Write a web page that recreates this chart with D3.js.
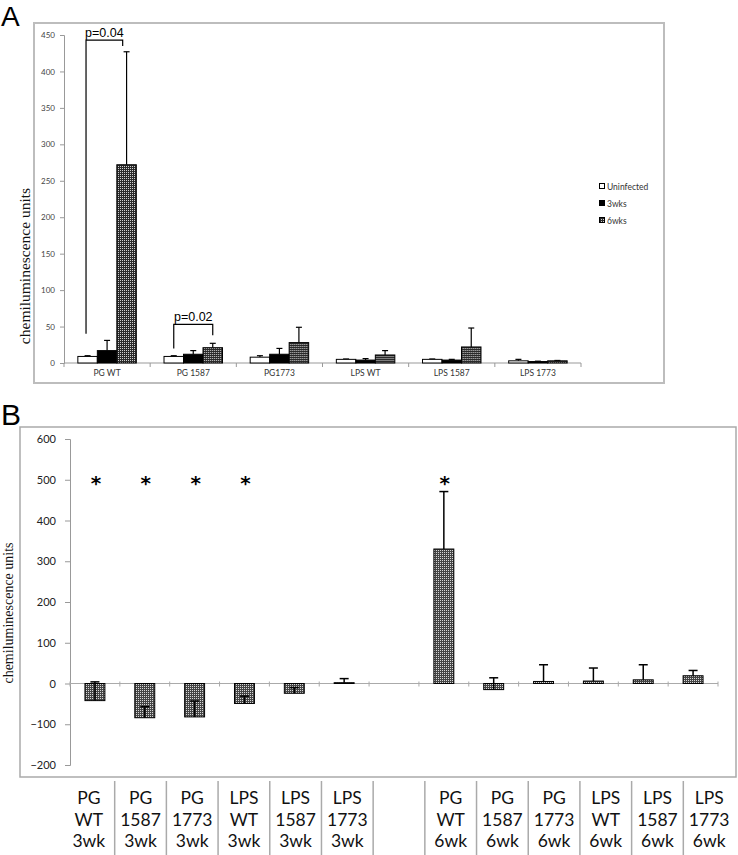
<!DOCTYPE html>
<html><head><meta charset="utf-8">
<script src="https://cdn.jsdelivr.net/npm/d3@7/dist/d3.min.js"></script>
<style>body{margin:0;background:#fff}svg{display:block}</style>
</head><body>
<svg id="chart" width="738" height="855"></svg>
<script>
// ---------- Panel A data ----------
const categoriesA = ["PG WT","PG 1587","PG1773","LPS WT","LPS 1587","LPS 1773"];
const seriesA = ["Uninfected","3wks","6wks"];
const uninfected    = [9, 9, 8, 5, 5, 3];
const uninfectedErr = [1, 1, 2, 0.5, 0.5, 2];
const wks3          = [17, 12, 12, 4, 4, 2];
const wks3Err       = [14, 5, 8, 2, 1, 0.5];
const wks6          = [272, 21, 28, 11, 22, 3];
const wks6Err       = [155, 6, 21, 6, 26, 0.5];
const ticksA = [0,50,100,150,200,250,300,350,400,450];

// ---------- Panel B data ----------
const categoriesB = ["PG WT 3wk","PG 1587 3wk","PG 1773 3wk","LPS WT 3wk","LPS 1587 3wk","LPS 1773 3wk","",
                     "PG WT 6wk","PG 1587 6wk","PG 1773 6wk","LPS WT 6wk","LPS 1587 6wk","LPS 1773 6wk"];
const valuesB = [-42, -84, -82, -49, -24, 2, null, 330, -15, 5, 6, 9, 19];
const errorsB = [46, 27, 39, 18, 14, 10, null, 141, 29, 41, 32, 37, 13];
const starsB  = ["PG WT 3wk","PG 1587 3wk","PG 1773 3wk","LPS WT 3wk","PG WT 6wk"];
const starValue = 500;
const ticksB = [-200,-100,0,100,200,300,400,500,600];

const svg = d3.select("#chart");
const defs = svg.append("defs");
function pat(id, bg, dot){
  const p = defs.append("pattern").attr("id", id).attr("width", 2).attr("height", 2)
    .attr("patternUnits", "userSpaceOnUse");
  p.append("rect").attr("width", 2).attr("height", 2).attr("fill", bg);
  p.append("rect").attr("width", 1).attr("height", 1).attr("fill", dot);
}
pat("patA", "#2a2a2a", "#d0d0d0");
pat("patB", "#454545", "#d8d8d8");

const sans = "Lato, 'Open Sans', sans-serif";
const serif = "'Liberation Serif', 'Times New Roman', serif";

// ================= PANEL A =================
svg.append("text").attr("x", 1).attr("y", 26).attr("font-family", "'Liberation Sans', Arial, sans-serif")
  .attr("font-size", 28).text("A");
svg.append("rect").attr("x", 34).attr("y", 23).attr("width", 630).attr("height", 360)
  .attr("fill", "none").attr("stroke", "#bdbdbd").attr("stroke-width", 2);

const yA = d3.scaleLinear().domain([0, 450]).range([363, 35]);
const xA = d3.scaleBand().domain(categoriesA).range([64, 581]).padding(0);
const x1A = d3.scaleBand().domain(seriesA).range([0, xA.bandwidth()]).paddingInner(0).paddingOuter(0.71);
const dataA = categoriesA.map((c, i) => ({
  cat: c,
  vals: [
    {s: "Uninfected", v: uninfected[i], e: uninfectedErr[i]},
    {s: "3wks", v: wks3[i], e: wks3Err[i]},
    {s: "6wks", v: wks6[i], e: wks6Err[i]}
  ]
}));
const fillA = {"Uninfected": "#fff", "3wks": "#000", "6wks": "url(#patA)"};

const gA = svg.append("g");
const axA = gA.append("g").attr("transform", "translate(64,0)")
  .call(d3.axisLeft(yA).tickValues(ticksA).tickSize(4).tickPadding(5));
axA.select(".domain").attr("stroke", "#999");
axA.selectAll(".tick line").attr("stroke", "#999");
axA.selectAll("text").attr("font-family", sans).attr("font-size", 8).attr("fill", "#444");
gA.append("line").attr("x1", 64).attr("x2", 581).attr("y1", yA(0)).attr("y2", yA(0)).attr("stroke", "#999");
gA.selectAll(".xtA").data(d3.range(categoriesA.length + 1)).join("line")
  .attr("x1", i => 64 + i * xA.step()).attr("x2", i => 64 + i * xA.step())
  .attr("y1", yA(0)).attr("y2", yA(0) + 4).attr("stroke", "#999");
gA.selectAll(".xlA").data(categoriesA).join("text")
  .attr("x", d => xA(d) + xA.bandwidth() / 2).attr("y", 376).attr("text-anchor", "middle")
  .attr("font-family", sans).attr("font-size", 8.5).attr("fill", "#333").text(d => d);

const grpA = gA.selectAll(".grpA").data(dataA).join("g").attr("transform", d => `translate(${xA(d.cat)},0)`);
grpA.selectAll(".errA").data(d => d.vals).join("g").each(function(d){
  const g = d3.select(this);
  const cx = x1A(d.s) + x1A.bandwidth() / 2;
  g.append("line").attr("x1", cx).attr("x2", cx).attr("y1", yA(d.v)).attr("y2", yA(d.v + d.e))
    .attr("stroke", "#000").attr("stroke-width", 1.2);
  g.append("line").attr("x1", cx - 3).attr("x2", cx + 3).attr("y1", yA(d.v + d.e)).attr("y2", yA(d.v + d.e))
    .attr("stroke", "#000").attr("stroke-width", 1.2);
});
grpA.selectAll(".barA").data(d => d.vals).join("rect")
  .attr("x", d => x1A(d.s)).attr("width", x1A.bandwidth())
  .attr("y", d => yA(d.v)).attr("height", d => yA(0) - yA(d.v))
  .attr("fill", d => fillA[d.s]).attr("stroke", "#000").attr("stroke-width", 1);

function bracket(xl, xr, yTop, yl, yr, label){
  const y0 = yA(yTop);
  gA.append("path").attr("d", `M${xl},${yA(yl)}V${y0}H${xr}V${yA(yr)}`)
    .attr("fill", "none").attr("stroke", "#000").attr("stroke-width", 1.2);
  gA.append("text").attr("x", (xl + xr) / 2).attr("y", y0 - 3).attr("text-anchor", "middle")
    .attr("font-family", "'Liberation Sans', Arial, sans-serif").attr("font-size", 12.5).text(label);
}
const pgwt = "PG WT", pg1587 = "PG 1587";
bracket(xA(pgwt) + x1A("Uninfected") + x1A.bandwidth() * 0.42, xA(pgwt) + x1A("6wks") + x1A.bandwidth() * 0.3,
        443, 40, 435, "p=0.04");
bracket(xA(pg1587) + x1A("Uninfected") + x1A.bandwidth() * 0.5, xA(pg1587) + x1A("6wks") + x1A.bandwidth() * 0.5,
        53, 20, 38, "p=0.02");

gA.append("text").attr("transform", `translate(30,${266}) rotate(-90)`).attr("text-anchor", "middle")
  .attr("font-family", serif).attr("font-size", 15.5).attr("fill", "#111").text("chemiluminescence units");

const legA = gA.append("g").attr("transform", "translate(599,183)");
seriesA.forEach((s, i) => {
  const g = legA.append("g").attr("transform", `translate(0,${i * 17})`);
  g.append("rect").attr("x", 0.5).attr("y", 0.5).attr("width", 5).attr("height", 5)
    .attr("fill", fillA[s]).attr("stroke", "#000").attr("stroke-width", 1);
  g.append("text").attr("x", 8).attr("y", 6.5).attr("font-family", sans).attr("font-size", 8.5)
    .attr("fill", "#333").text(s);
});

// ================= PANEL B =================
svg.append("text").attr("x", 1).attr("y", 425).attr("font-family", "'Liberation Sans', Arial, sans-serif")
  .attr("font-size", 30).text("B");
svg.append("rect").attr("x", 20).attr("y", 427).attr("width", 716).attr("height", 350)
  .attr("fill", "none").attr("stroke", "#aaa").attr("stroke-width", 1.5);

const yB = d3.scaleLinear().domain([-200, 600]).range([765, 439]);
const xB = d3.scaleBand().domain(categoriesB.map((c, i) => i)).range([70, 718]).padding(0);
const gB = svg.append("g");
const axB = gB.append("g").attr("transform", "translate(70,0)")
  .call(d3.axisLeft(yB).tickValues(ticksB).tickSize(5).tickPadding(9));
axB.select(".domain").attr("stroke", "#999");
axB.selectAll(".tick line").attr("stroke", "#999");
axB.selectAll("text").attr("font-family", sans).attr("font-size", 11).attr("fill", "#222");
gB.append("line").attr("x1", 70).attr("x2", 718).attr("y1", yB(0)).attr("y2", yB(0)).attr("stroke", "#aaa");
gB.selectAll(".xtB").data(d3.range(categoriesB.length + 1)).join("line")
  .attr("x1", i => 70 + i * xB.step()).attr("x2", i => 70 + i * xB.step())
  .attr("y1", yB(0) - 2).attr("y2", yB(0) + 3).attr("stroke", "#aaa");

const dataB = categoriesB.map((c, i) => ({i, c, v: valuesB[i], e: errorsB[i]})).filter(d => d.v !== null);
const bw = xB.bandwidth() * 0.4;
gB.selectAll(".barB").data(dataB).join("rect")
  .attr("x", d => xB(d.i) + (xB.bandwidth() - bw) / 2).attr("width", bw)
  .attr("y", d => yB(Math.max(0, d.v))).attr("height", d => Math.abs(yB(d.v) - yB(0)))
  .attr("fill", "url(#patB)").attr("stroke", "#000").attr("stroke-width", 1);
gB.selectAll(".errB").data(dataB).join("g").each(function(d){
  const g = d3.select(this);
  const cx = xB(d.i) + xB.bandwidth() / 2;
  g.append("line").attr("x1", cx).attr("x2", cx).attr("y1", yB(d.v)).attr("y2", yB(d.v + d.e))
    .attr("stroke", "#000").attr("stroke-width", 1.5);
  g.append("line").attr("x1", cx - 4.5).attr("x2", cx + 4.5).attr("y1", yB(d.v + d.e)).attr("y2", yB(d.v + d.e))
    .attr("stroke", "#000").attr("stroke-width", 1.5);
});
gB.selectAll(".starB").data(starsB).join("text")
  .attr("x", d => xB(categoriesB.indexOf(d)) + xB.bandwidth() / 2 + 1).attr("y", yB(starValue) + 10)
  .attr("text-anchor", "middle").attr("font-family", "'DejaVu Sans', sans-serif").attr("font-size", 20)
  .attr("font-weight", "bold").text("*");

gB.append("text").attr("transform", `translate(13,${613}) rotate(-90)`).attr("text-anchor", "middle")
  .attr("font-family", serif).attr("font-size", 14).attr("fill", "#111").text("chemiluminescence units");

const xT = d3.scaleBand().domain(categoriesB.map((c, i) => i)).range([63, 735]).padding(0);
gB.selectAll(".sepB").data(d3.range(1, categoriesB.length)).join("line")
  .attr("x1", i => 63 + i * xT.step()).attr("x2", i => 63 + i * xT.step())
  .attr("y1", 781).attr("y2", 855).attr("stroke", "#aaa").attr("stroke-width", 1.5);
categoriesB.forEach((c, i) => {
  if (!c) return;
  c.split(" ").forEach((w, k) => {
    gB.append("text").attr("x", xT(i) + xT.bandwidth() / 2).attr("y", 804 + k * 21.5)
      .attr("text-anchor", "middle").attr("font-family", sans).attr("font-size", 17.5).attr("fill", "#111").text(w);
  });
});
</script>
</body></html>
